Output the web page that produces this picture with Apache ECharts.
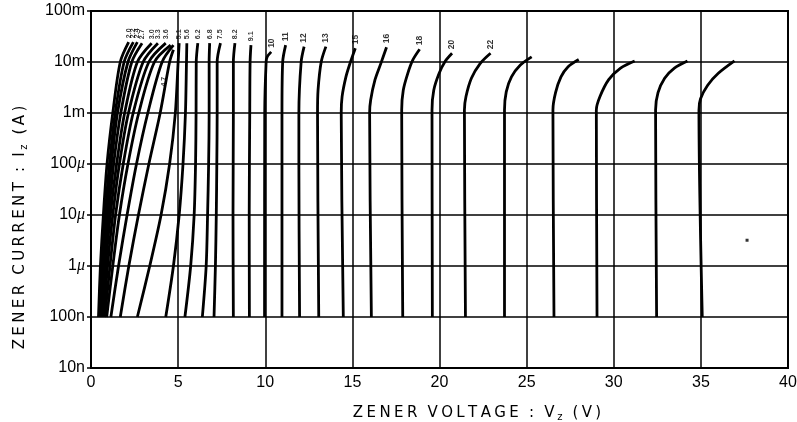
<!DOCTYPE html>
<html><head><meta charset="utf-8">
<script src="https://cdn.jsdelivr.net/npm/echarts/dist/echarts.min.js"></script>
<style>html,body{margin:0;padding:0;background:#fff}#c{width:797px;height:422px}</style>
</head><body><div id="c"></div>
<script>
// ---- data (V, A) ----
const yTickLabels = ['10n','100n','1μ','10μ','100μ','1m','10m','100m'];
const xTicks = [0,5,10,15,20,25,30,35,40];
const xTitle = ['ZENER VOLTAGE : V','z',' (V)'];
const yTitle = ['ZENER CURRENT : I','z',' (A)'];

const z2_0 = [[0.43,1e-7],[0.54,1e-6],[0.71,1e-5],[0.92,1e-4],[1.25,1e-3],[1.68,1e-2],[2.16,0.0245]];
const z2_2 = [[0.49,1e-7],[0.63,1e-6],[0.82,1e-5],[1.06,1e-4],[1.39,1e-3],[1.90,1e-2],[2.43,0.0245]];
const z2_4 = [[0.52,1e-7],[0.68,1e-6],[0.90,1e-5],[1.17,1e-4],[1.52,1e-3],[2.12,1e-2],[2.66,0.0245]];
const z2_7 = [[0.57,1e-7],[0.76,1e-6],[1.01,1e-5],[1.30,1e-4],[1.71,1e-3],[2.34,1e-2],[2.93,0.0234]];
const z3_0 = [[0.63,1e-7],[0.84,1e-6],[1.11,1e-5],[1.47,1e-4],[1.93,1e-3],[2.66,1e-2],[3.48,0.0234]];
const z3_3 = [[0.71,1e-7],[0.95,1e-6],[1.25,1e-5],[1.63,1e-4],[2.15,1e-3],[2.99,1e-2],[3.84,0.0234]];
const z3_6 = [[0.79,1e-7],[1.09,1e-6],[1.41,1e-5],[1.85,1e-4],[2.42,1e-3],[3.32,1e-2],[4.29,0.0234]];
const z3_9 = [[0.90,1e-7],[1.25,1e-6],[1.63,1e-5],[2.12,1e-4],[2.74,1e-3],[3.64,1e-2],[4.57,0.0214]];
const z4_3 = [[1.14,1e-7],[1.58,1e-6],[2.07,1e-5],[2.61,1e-4],[3.26,1e-3],[4.08,1e-2],[4.73,0.0214]];
const z4_7 = [[1.68,1e-7],[2.17,1e-6],[2.72,1e-5],[3.32,1e-4],[3.97,1e-3],[4.51,1e-2],[4.73,0.0174]];
const z5_1 = [[2.66,1e-7],[3.37,1e-6],[4.02,1e-5],[4.51,1e-4],[4.84,1e-3],[5.00,1e-2],[5.06,0.0234]];
const z5_6 = [[4.29,1e-7],[4.73,1e-6],[5.06,1e-5],[5.28,1e-4],[5.42,1e-3],[5.48,1e-2],[5.50,0.0234]];
const z6_2 = [[5.39,1e-7],[5.72,1e-6],[5.92,1e-5],[6.00,1e-4],[6.03,1e-3],[6.04,1e-2],[6.13,0.0234]];
const z6_8 = [[6.39,1e-7],[6.61,1e-6],[6.69,1e-5],[6.75,1e-4],[6.78,1e-3],[6.78,1e-2],[6.81,0.0234]];
const z7_5 = [[7.06,1e-7],[7.14,1e-6],[7.19,1e-5],[7.22,1e-4],[7.24,1e-3],[7.24,1e-2],[7.43,0.0234]];
const z8_2 = [[8.17,1e-7],[8.15,1e-5],[8.17,1e-3],[8.17,1e-2],[8.26,0.0234]];
const z9_1 = [[9.09,1e-7],[9.08,1e-5],[9.11,1e-3],[9.13,1e-2],[9.18,0.0214]];
const z10 = [[9.96,1e-7],[9.97,1e-3],[10.05,1e-2],[10.11,0.0126],[10.34,0.0158]];
const z11 = [[10.96,1e-7],[10.96,1e-3],[11.00,1e-2],[11.17,0.0214]];
const z12 = [[11.97,1e-7],[11.93,1e-4],[11.93,1e-3],[12.06,1e-2],[12.23,0.0200]];
const z13 = [[13.07,1e-7],[13.00,1e-3],[13.03,0.0028],[13.21,1e-2],[13.48,0.0200]];
const z15 = [[14.48,1e-7],[14.36,1e-3],[14.41,0.0021],[14.63,0.0051],[14.86,0.0093],[15.17,0.0186]];
const z16 = [[16.09,1e-7],[15.99,1e-3],[16.05,0.0018],[16.30,0.0045],[16.63,0.0093],[16.96,0.0195]];
const z18 = [[17.89,1e-7],[17.83,0.00115],[17.92,0.0028],[18.18,0.0060],[18.47,0.0110],[18.86,0.0178]];
const z20 = [[19.59,1e-7],[19.57,0.00115],[19.67,0.0028],[19.98,0.0060],[20.32,0.0102],[20.72,0.0148]];
const z22 = [[21.49,1e-7],[21.43,0.00115],[21.52,0.0021],[21.83,0.0048],[22.33,0.0093],[22.93,0.0148]];
const z24 = [[23.73,1e-7],[23.73,0.00115],[23.83,0.0026],[24.13,0.0051],[24.64,0.0087],[25.29,0.0126]];
const z27 = [[26.57,1e-7],[26.51,0.00115],[26.66,0.0025],[26.97,0.0051],[27.38,0.0081],[27.99,0.0112]];
const z30 = [[29.04,1e-7],[29.00,0.00115],[29.21,0.0021],[29.71,0.0045],[30.39,0.0076],[31.20,0.0105]];
const z33 = [[32.46,1e-7],[32.40,0.00115],[32.54,0.0025],[32.92,0.0048],[33.48,0.0076],[34.23,0.0105]];
const z36 = [[35.08,1e-7],[34.89,0.00115],[34.98,0.0019],[35.39,0.0035],[36.00,0.0060],[36.93,0.0105]];

const curveData = [z2_0,z2_2,z2_4,z2_7,z3_0,z3_3,z3_6,z3_9,z4_3,z4_7,z5_1,z5_6,z6_2,z6_8,z7_5,z8_2,z9_1,
  z10,z11,z12,z13,z15,z16,z18,z20,z22,z24,z27,z30,z33,z36];
const curveLabels = ['2.0','2.2','2.4','2.7','3.0','3.3','3.6','','','4.7','5.1','5.6','6.2','6.8','7.5','8.2','9.1',
  '10','11','12','13','15','16','18','20','22','','','','',''];
const midLabelAnchor = {'4.7':[4.18,0.0041]};   // label written beside the curve, not at its end
const specks = [[37.65,3.2e-6]];

// ---- helpers ----
function spaced(parts){
  const enc = s => s.split('').map(ch => ch===' ' ? '{sp| }' : '{c|'+ch+'}').join('');
  return enc(parts[0]) + '{s|'+parts[1]+'}' + enc(parts[2]);
}
const titleRich = {
  c:{fontSize:15, fontFamily:'DejaVu Sans', color:'#000', padding:[0,1.7,0,1.7]},
  sp:{fontSize:15, fontFamily:'DejaVu Sans', color:'#000', padding:[0,1,0,1]},
  s:{fontSize:10, fontFamily:'DejaVu Sans', color:'#000', padding:[8,1.5,0,1]}
};

// ---- chart ----
const series = curveData.map((d,i)=>({
  type:'line', name:curveLabels[i]||('c'+i), data:d, showSymbol:false, silent:true,
  smooth:0.3, lineStyle:{color:'#000', width:2.8}, z:3
}));
const labelPts = [];
curveData.forEach((d,i)=>{
  const txt = curveLabels[i];
  if(!txt) return;
  const mid = midLabelAnchor[txt];
  const p = mid ? mid : d[d.length-1];
  const small = parseFloat(txt)<10;
  labelPts.push({value:p, name:txt, label:{
    show:true, formatter:txt, rotate:90, position: mid ? 'inside' : 'top',
    align: mid ? 'center' : 'left', verticalAlign:'middle', distance:4,
    fontSize: small?7:8.5, fontFamily:'Liberation Sans', fontWeight:'bold', color:'#000'}});
});
series.push({type:'scatter', data:labelPts, symbolSize:0, silent:true, z:4});
series.push({type:'scatter', data:specks, symbol:'rect', symbolSize:3, itemStyle:{color:'#000'}, silent:true});

const chart = echarts.init(document.getElementById('c'), null, {renderer:'canvas'});
chart.setOption({
  animation:false,
  backgroundColor:'#fff',
  grid:{left:91, right:9, top:11, bottom:54, containLabel:false, outerBoundsMode:'none',
    show:true, borderColor:'#000', borderWidth:2, backgroundColor:'transparent'},
  xAxis:{type:'value', min:xTicks[0], max:xTicks[xTicks.length-1], interval:5,
    axisLine:{show:true, onZero:false, lineStyle:{color:'#000', width:2}},
    axisTick:{show:false},
    splitLine:{show:true, lineStyle:{color:'#000', width:1.5}},
    axisLabel:{fontSize:16, color:'#000', margin:7, fontFamily:'Liberation Sans'},
    name:spaced(xTitle), nameLocation:'middle', nameGap:36,
    nameTextStyle:{padding:[0,0,0,75], rich:titleRich}
  },
  yAxis:{type:'log', logBase:10, min:1e-8, max:1e-1,
    axisLine:{show:true, lineStyle:{color:'#000', width:2}},
    axisTick:{show:true, length:4, lineStyle:{color:'#000', width:1.5}},
    splitLine:{show:true, lineStyle:{color:'#000', width:1.5}},
    minorTick:{show:false}, minorSplitLine:{show:false},
    axisLabel:{margin:6, color:'#000',
      formatter:v=>{const e=Math.round(Math.log10(v)); const s=yTickLabels[e+8]||''; return s.indexOf('μ')>=0 ? '{n|'+s.replace('μ','')+'}{u|μ}' : '{n|'+s+'}';},
      rich:{n:{fontSize:16, fontFamily:'Liberation Sans', color:'#000'}, u:{fontSize:16, fontStyle:'italic', fontFamily:'Liberation Serif', color:'#000'}}},
    name:spaced(yTitle), nameLocation:'middle', nameGap:62, nameRotate:90,
    nameTextStyle:{padding:[0,76,0,0], rich:titleRich}
  },
  series: series
});
</script></body></html>
